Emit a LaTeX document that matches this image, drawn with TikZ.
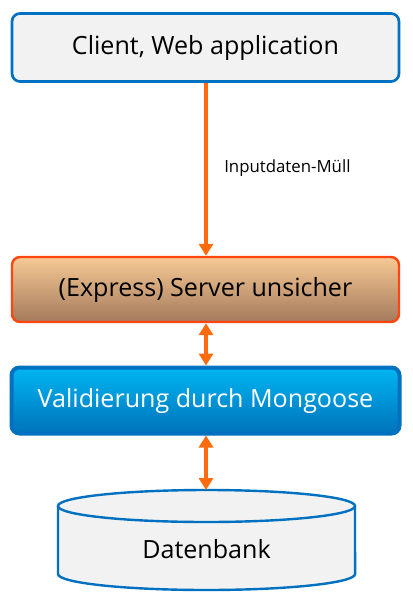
\documentclass[tikz,border=0pt]{standalone}
\usepackage{fontspec}
\setmainfont{Open Sans}
\usetikzlibrary{arrows.meta}
\definecolor{boxblue}{HTML}{0070C0}
\definecolor{boxgray}{HTML}{F2F2F2}
\definecolor{arrorange}{HTML}{FF6A0D}
\definecolor{srvborder}{HTML}{FF4510}
\definecolor{srvtop}{HTML}{F6C994}
\definecolor{srvbot}{HTML}{A47A5C}
\definecolor{valtop}{HTML}{00B6F2}
\definecolor{valbot}{HTML}{0072BA}
\tikzset{
  layer/.style={rounded corners=6pt, minimum width=290.25pt, minimum height=51pt, inner sep=0pt, font=\fontsize{18.8}{22}\selectfont},
  conn/.style={draw=arrorange, line width=3pt},
  tip/.style={-{Triangle[width=10.5pt,length=9pt]}},
  dtip/.style={{Triangle[width=10.5pt,length=9pt]}-{Triangle[width=10.5pt,length=9pt]}},
}
\begin{document}
\begin{tikzpicture}[x=0.75pt,y=-0.75pt]
\useasboundingbox (0,0) rectangle (413,603);
\node[layer, draw=boxblue, line width=2pt, fill=boxgray] (client) at (205.5,47.5) {Client, Web application};
\node[layer, draw=srvborder, line width=1.8pt, top color=srvtop, bottom color=srvbot, minimum height=48.75pt] (server) at (205.5,289.5) {(Express) Server unsicher};
\node[layer, draw=boxblue, line width=3pt, top color=valtop, bottom color=valbot, text=white, minimum height=49.5pt, minimum width=291pt] (valid) at (205.5,400.5) {Validierung durch Mongoose};
% database cylinder
\draw[draw=boxblue, line width=1.8pt, fill=boxgray] (58,506) -- (58,574) arc[start angle=180, end angle=360, x radius=111.4pt, y radius=12pt] -- (355,506);
\draw[draw=boxblue, line width=1.8pt, fill=boxgray] (206.5,506) ellipse[x radius=111.4pt, y radius=12pt];
\coordinate (dbtop) at (206,490);
\node[font=\fontsize{18.8}{22}\selectfont] (db) at (206.5,549) {Datenbank};
% connectors
\draw[conn, tip] (client.south -| 206,0) -- (server.north -| 206,0);
\draw[conn, dtip] (server.south -| 206,0) -- (valid.north -| 206,0);
\draw[conn, dtip] (valid.south -| 206,0) -- (dbtop);
\node[font=\fontsize{12.6}{15}\selectfont, anchor=west, inner sep=0pt] (lbl) at (224,168) {Inputdaten-Müll};
\end{tikzpicture}
\end{document}
